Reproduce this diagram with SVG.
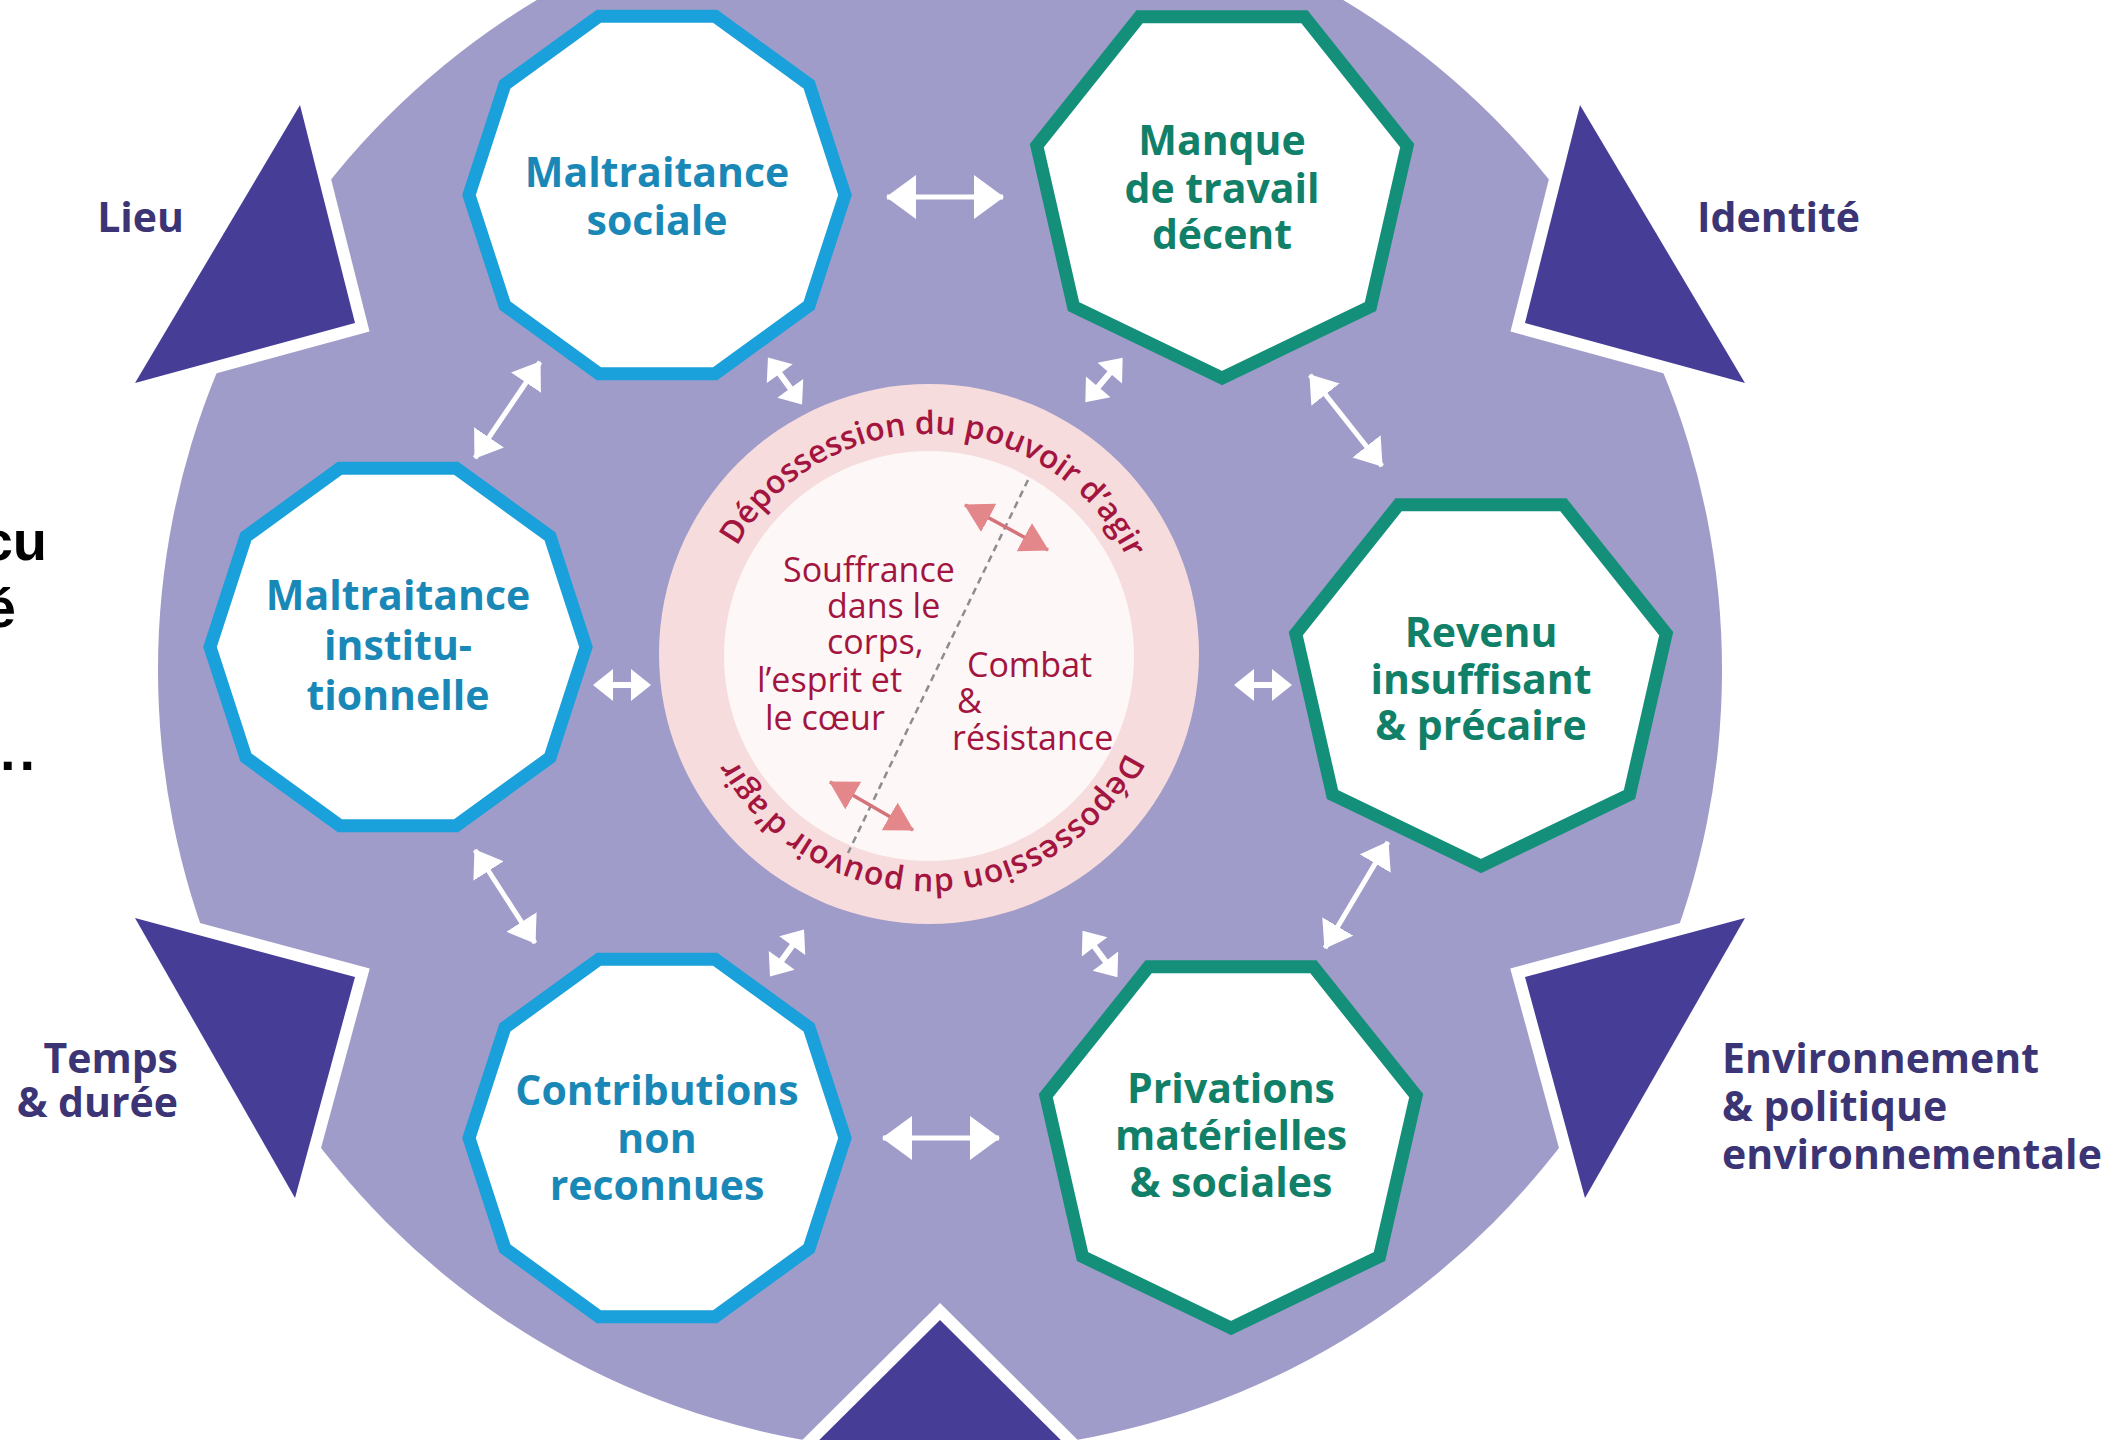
<svg xmlns="http://www.w3.org/2000/svg" xmlns:xlink="http://www.w3.org/1999/xlink" width="2120" height="1440" viewBox="0 0 2120 1440">
<defs>
<style>
.lb{font-family:"Open Sans","Noto Sans",sans-serif;font-weight:700;font-size:41px;text-anchor:middle}
.bt{fill:#1a88b7}
.gt{fill:#118069}
.blue{fill:#fff;stroke:#1aa0da;stroke-width:13;stroke-linejoin:miter}
.green{fill:#fff;stroke:#14907a;stroke-width:13;stroke-linejoin:miter}
.side{font-family:"Open Sans","Noto Sans",sans-serif;font-weight:700;font-size:41px;fill:#3c3575}
.tri{fill:#463d97;stroke:#fff;stroke-width:24;paint-order:stroke;stroke-linejoin:miter}
.ct{font-family:"Open Sans","Noto Sans",sans-serif;font-size:34px;fill:#a3153f}
.rt{font-family:"Open Sans","Noto Sans",sans-serif;font-weight:600;font-size:32px;fill:#a3153f}
.bk{font-family:"Liberation Sans",Arial,sans-serif;font-weight:700;font-size:56px;fill:#000}
.wl{stroke:#fff;stroke-width:5;fill:none}
.pl{stroke:#d4737a;stroke-width:3.5;fill:none}
.dbl{fill:#fff}
</style>
<polygon id="deca" points="188,0 152.1,110.5 58.1,178.8 -58.1,178.8 -152.1,110.5 -188,0 -152.1,-110.5 -58.1,-178.8 58.1,-178.8 152.1,-110.5"/>
<polygon id="hepta" points="0,190 -148.5,118.5 -185.2,-42.3 -82.4,-171.2 82.4,-171.2 185.2,-42.3 148.5,118.5"/>
<path id="dblh" d="M-29,0 L-9,-16 L-9,-3 L9,-3 L9,-16 L29,0 L9,16 L9,3 L-9,3 L-9,16 Z"/>
<marker id="whL" viewBox="0 0 30 44" refX="29" refY="22" markerWidth="30" markerHeight="44" markerUnits="userSpaceOnUse" orient="auto-start-reverse"><path d="M0,0 L30,22 L0,44 Z" fill="#fff"/></marker>
<marker id="whS" viewBox="0 0 26 36" refX="25" refY="18" markerWidth="26" markerHeight="36" markerUnits="userSpaceOnUse" orient="auto-start-reverse"><path d="M0,0 L26,18 L0,36 Z" fill="#fff"/></marker>
<marker id="pk" viewBox="0 0 28 32" refX="27" refY="16" markerWidth="28" markerHeight="32" markerUnits="userSpaceOnUse" orient="auto-start-reverse"><path d="M0,0 L28,16 L0,32 Z" fill="#e4878a"/></marker>
<path id="arcTop" d="M709,654 A220,220 0 0,1 1149,654"/>
<path id="arcBot" d="M1149,654 A220,220 0 0,1 709,654"/>
</defs>

<rect width="2120" height="1440" fill="#fff"/>

<g id="background">
<circle cx="940" cy="670" r="782" fill="#a09cc9"/>
<polygon class="tri" points="300,105 355,323 135,383"/>
<polygon class="tri" points="1580,105 1525,323 1745,383"/>
<polygon class="tri" points="135,918 355,977 295,1198"/>
<polygon class="tri" points="1745,918 1525,977 1585,1198"/>
<polygon class="tri" points="940,1320 779,1480 1101,1480"/>
</g>

<g id="side-labels">
<text class="side" x="184" y="232" text-anchor="end">Lieu</text>
<text class="side" x="1697" y="232">Identité</text>
<text class="side" text-anchor="end"><tspan x="178" y="1073">Temps</tspan><tspan x="178" y="1117">&amp; durée</tspan></text>
<text class="side"><tspan x="1722" y="1073">Environnement</tspan><tspan x="1722" y="1121">&amp; politique</tspan><tspan x="1722" y="1169">environnementale</tspan></text>
</g>

<g id="left-fragments">
<text class="bk" x="47" y="560" text-anchor="end">cu</text>
<text class="bk" x="16" y="627" text-anchor="end">é</text>
<text class="bk" x="0" y="770" letter-spacing="4">..</text>
</g>

<g id="center">
<circle cx="929" cy="654" r="270" fill="#f6dcdc"/>
<circle cx="929" cy="656" r="205" fill="#fdf7f7"/>
<text class="rt"><textPath href="#arcTop" startOffset="51%" text-anchor="middle">Dépossession du pouvoir d’agir</textPath></text>
<text class="rt"><textPath href="#arcBot" startOffset="49.5%" text-anchor="middle">Dépossession du pouvoir d’agir</textPath></text>
<line x1="1028" y1="480" x2="848" y2="853" stroke="#8d8d8d" stroke-width="2.5" stroke-dasharray="7 5"/>
<line class="pl" x1="965" y1="505" x2="1048" y2="550" marker-start="url(#pk)" marker-end="url(#pk)"/>
<line class="pl" x1="830" y1="782" x2="913" y2="830" marker-start="url(#pk)" marker-end="url(#pk)"/>
<text class="ct"><tspan x="783" y="582">Souffrance</tspan><tspan x="827" y="618">dans le</tspan><tspan x="827" y="654">corps,</tspan><tspan x="757" y="692">l’esprit et</tspan><tspan x="765" y="730">le cœur</tspan></text>
<text class="ct"><tspan x="967" y="677">Combat</tspan><tspan x="957" y="713">&amp;</tspan><tspan x="952" y="750">résistance</tspan></text>
</g>

<g id="node-maltraitance-sociale">
<use href="#deca" class="blue" transform="translate(657,195)"/>
<text class="lb bt"><tspan x="657" y="187">Maltraitance</tspan><tspan x="657" y="235">sociale</tspan></text>
</g>
<g id="node-manque-travail">
<use href="#hepta" class="green" transform="translate(1222,188)"/>
<text class="lb gt"><tspan x="1222" y="155">Manque</tspan><tspan x="1222" y="203">de travail</tspan><tspan x="1222" y="249">décent</tspan></text>
</g>
<g id="node-maltraitance-institutionnelle">
<use href="#deca" class="blue" transform="translate(398,647)"/>
<text class="lb bt"><tspan x="398" y="610">Maltraitance</tspan><tspan x="398" y="660">institu-</tspan><tspan x="398" y="710">tionnelle</tspan></text>
</g>
<g id="node-revenu">
<use href="#hepta" class="green" transform="translate(1481,676)"/>
<text class="lb gt"><tspan x="1481" y="647">Revenu</tspan><tspan x="1481" y="694">insuffisant</tspan><tspan x="1481" y="740">&amp; précaire</tspan></text>
</g>
<g id="node-contributions">
<use href="#deca" class="blue" transform="translate(657,1138)"/>
<text class="lb bt"><tspan x="657" y="1105">Contributions</tspan><tspan x="657" y="1153">non</tspan><tspan x="657" y="1200">reconnues</tspan></text>
</g>
<g id="node-privations">
<use href="#hepta" class="green" transform="translate(1231,1138)"/>
<text class="lb gt"><tspan x="1231" y="1103">Privations</tspan><tspan x="1231" y="1150">matérielles</tspan><tspan x="1231" y="1197">&amp; sociales</tspan></text>
</g>

<g id="connectors">
<line class="wl" x1="887" y1="197" x2="1003" y2="197" marker-start="url(#whL)" marker-end="url(#whL)"/>
<line class="wl" x1="883" y1="1138" x2="999" y2="1138" marker-start="url(#whL)" marker-end="url(#whL)"/>
<line class="wl" x1="540" y1="362" x2="475" y2="458" marker-start="url(#whS)" marker-end="url(#whS)"/>
<line class="wl" x1="475" y1="850" x2="535" y2="943" marker-start="url(#whS)" marker-end="url(#whS)"/>
<line class="wl" x1="1310" y1="375" x2="1382" y2="466" marker-start="url(#whS)" marker-end="url(#whS)"/>
<line class="wl" x1="1388" y1="842" x2="1325" y2="948" marker-start="url(#whS)" marker-end="url(#whS)"/>
<use href="#dblh" class="dbl" transform="translate(622,685)"/>
<use href="#dblh" class="dbl" transform="translate(1263,685)"/>
<use href="#dblh" class="dbl" transform="translate(785,381) rotate(54)"/>
<use href="#dblh" class="dbl" transform="translate(1104,380) rotate(-50)"/>
<use href="#dblh" class="dbl" transform="translate(787,953) rotate(-54)"/>
<use href="#dblh" class="dbl" transform="translate(1100,954) rotate(53)"/>
</g>
</svg>
